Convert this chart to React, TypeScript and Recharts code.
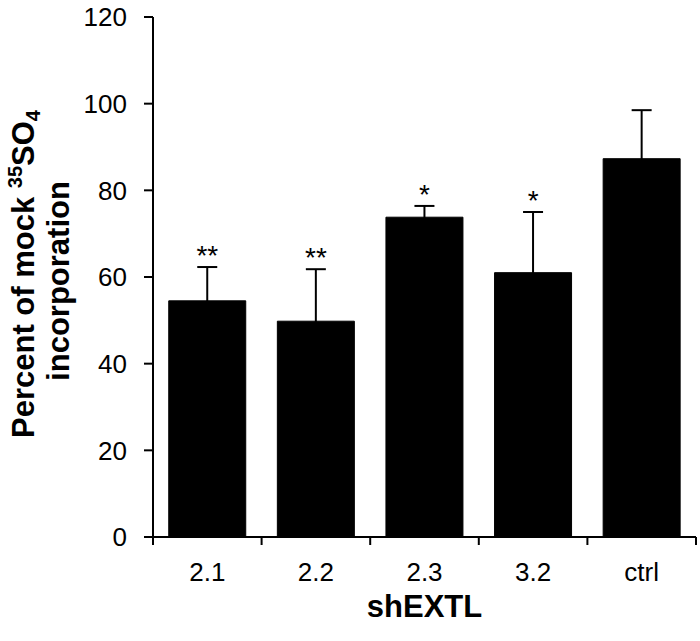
import React from "react";
import {
  ComposedChart,
  Bar,
  Line,
  ErrorBar,
  LabelList,
  XAxis,
  YAxis,
} from "recharts";

// shEXTL knockdown vs. 35SO4 incorporation (percent of mock)
const categories = ["2.1", "2.2", "2.3", "3.2", "ctrl"];
const percentValues = [54.5, 49.8, 73.8, 61, 87.3];
const errorValues = [7.8, 12, 2.6, 14, 11.2];
const significance = ["**", "**", "*", "*", ""];
const yTicks = [0, 20, 40, 60, 80, 100, 120];

const data = categories.map((name, i) => ({
  name,
  value: percentValues[i],
  err: errorValues[i],
  sig: significance[i],
}));

const FONT = "'Liberation Sans', Arial, Helvetica, sans-serif";

// ticks sit between the categories, labels in the middle
function CategoryTick(props: any) {
  const { x, y, payload, index, visibleTicksCount, width } = props;
  const half = payload.offset ?? width / visibleTicksCount / 2;
  const isLast = index === visibleTicksCount - 1;
  return (
    <g>
      <line x1={x - half} x2={x - half} y1={y} y2={y + 8} stroke="#000" strokeWidth={2} />
      {isLast && (
        <line x1={x + half} x2={x + half} y1={y} y2={y + 8} stroke="#000" strokeWidth={2} />
      )}
      <text
        x={x}
        y={y + 26}
        dy="0.71em"
        textAnchor="middle"
        fontSize={26}
        fontFamily={FONT}
        fill="#000"
      >
        {payload.value}
      </text>
    </g>
  );
}

function YLabel(props: any) {
  const { viewBox } = props;
  const cy = viewBox.y + viewBox.height / 2;
  return (
    <g fontFamily={FONT} fontWeight="bold" fill="#000" fontSize={31}>
      <text transform={`translate(34, ${cy - 3}) rotate(-90)`} textAnchor="middle">
        Percent of mock{" "}
        <tspan fontSize={20} dy={-12}>35</tspan>
        <tspan dy={12}>SO</tspan>
        <tspan fontSize={20} dy={6}>4</tspan>
      </text>
      <text transform={`translate(69, ${cy + 4}) rotate(-90)`} textAnchor="middle">
        incorporation
      </text>
    </g>
  );
}

function SigLabel(props: any) {
  const { x, y, value } = props;
  if (!value) return null;
  return (
    <text x={x} y={y - 2} textAnchor="middle" fontSize={28} fontFamily={FONT} fill="#000">
      {value}
    </text>
  );
}

export default function App() {
  return (
    <div style={{ position: "absolute", left: 0, top: 0, background: "#fff" }}>
      <ComposedChart
        width={700}
        height={641}
        data={data}
        margin={{ top: 17, right: 4, left: 0, bottom: 0 }}
        barCategoryGap="14.5%"
      >
        <XAxis
          dataKey="name"
          height={104}
          axisLine={{ stroke: "#000", strokeWidth: 2 }}
          tickLine={false}
          tickSize={0}
          tickMargin={0}
          interval={0}
          tick={<CategoryTick />}
          label={{
            value: "shEXTL",
            position: "insideBottom",
            offset: 24,
            fontSize: 31,
            fontWeight: "bold",
            fontFamily: FONT,
            fill: "#000",
          }}
        />
        <YAxis
          width={153}
          domain={[0, 120]}
          ticks={yTicks}
          interval={0}
          axisLine={{ stroke: "#000", strokeWidth: 2 }}
          tickLine={{ stroke: "#000", strokeWidth: 2 }}
          tickSize={9}
          tickMargin={17}
          tick={{ fontSize: 26, fill: "#000", fontFamily: FONT }}
          label={<YLabel />}
        />
        <Bar dataKey="value" fill="#000" stroke="#000" isAnimationActive={false}>
          <ErrorBar dataKey="err" direction="y" width={10} stroke="#000" strokeWidth={2} />
        </Bar>
        <Line
          dataKey={(d: any) => d.value + d.err}
          stroke="none"
          dot={false}
          activeDot={false}
          legendType="none"
          isAnimationActive={false}
        >
          <LabelList dataKey="sig" content={<SigLabel />} />
        </Line>
      </ComposedChart>
    </div>
  );
}
